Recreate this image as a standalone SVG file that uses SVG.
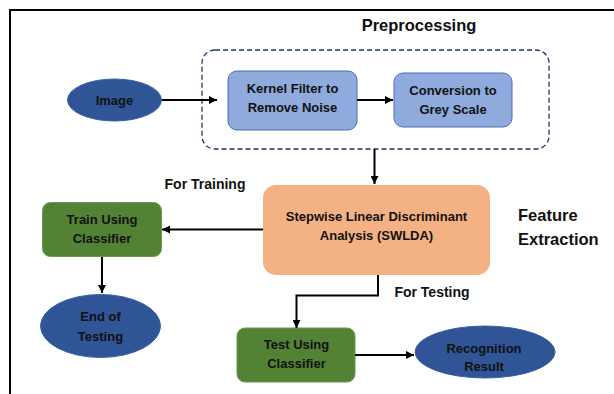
<svg xmlns="http://www.w3.org/2000/svg" width="614" height="394" viewBox="0 0 614 394">
<defs>
<marker id="ah" viewBox="0 0 10 10" refX="10" refY="5" markerWidth="4" markerHeight="4" orient="auto" markerUnits="strokeWidth">
<path d="M0,0 L10,5 L0,10 z" fill="#000"/>
</marker>
<style>
.t{font-family:"Liberation Sans",Arial,sans-serif;font-weight:bold;font-size:13px;fill:#111;text-anchor:middle}
.lbl{font-family:"Liberation Sans",Arial,sans-serif;font-weight:bold;font-size:14px;fill:#111}
.big{font-family:"Liberation Sans",Arial,sans-serif;font-weight:bold;font-size:16.5px;fill:#111}
.blue{fill:#2F5597;stroke:#3A62A7;stroke-width:1}
.lb{fill:#8FAADC;stroke:#4A6FB0;stroke-width:1}
.gr{fill:#548235;stroke:#6A9A4A;stroke-width:1}
.c{fill:none;stroke:#000;stroke-width:2;marker-end:url(#ah)}
</style>
</defs>
<rect width="614" height="394" fill="#fff"/>
<path d="M10,394 V10 H614" fill="none" stroke="#000" stroke-width="2"/>
<text class="big" x="419" y="31" text-anchor="middle">Preprocessing</text>
<rect x="202" y="50" width="347" height="99" rx="13" fill="none" stroke="#203864" stroke-width="1.3" stroke-dasharray="5,3"/>
<text class="lbl" x="205" y="189" text-anchor="middle">For Training</text>
<text class="lbl" x="432" y="297" text-anchor="middle">For Testing</text>
<text class="big" x="518" y="221">Feature</text>
<text class="big" x="518" y="245">Extraction</text>

<g id="image"><ellipse class="blue" cx="114.5" cy="100" rx="47" ry="21"/><text class="t" x="114.5" y="104.5">Image</text></g>
<g id="kernel"><rect class="lb" x="228" y="71" width="129" height="59" rx="9"/><text class="t" x="292.5" y="92.5">Kernel Filter to</text><text class="t" x="292.5" y="111.5">Remove Noise</text></g>
<g id="grey"><rect class="lb" x="394" y="73" width="118" height="54" rx="9"/><text class="t" x="453" y="94.5">Conversion to</text><text class="t" x="453" y="113.5">Grey Scale</text></g>
<g id="swlda"><rect x="263" y="185" width="227" height="90" rx="13" fill="#F4B183"/><text class="t" x="376.5" y="220.5">Stepwise Linear Discriminant</text><text class="t" x="376.5" y="239.5">Analysis (SWLDA)</text></g>
<g id="train"><rect class="gr" x="42.5" y="202.5" width="119" height="54" rx="8"/><text class="t" x="102" y="223.5">Train Using</text><text class="t" x="102" y="242.5">Classifier</text></g>
<g id="end"><ellipse class="blue" cx="100.5" cy="326" rx="60" ry="31.5"/><text class="t" x="100.5" y="321">End of</text><text class="t" x="100.5" y="340.5">Testing</text></g>
<g id="test"><rect class="gr" x="237" y="328" width="118" height="54" rx="8"/><text class="t" x="296.5" y="348.5">Test Using</text><text class="t" x="296.5" y="367.5">Classifier</text></g>
<g id="result"><ellipse class="blue" cx="485" cy="352" rx="70" ry="26"/><text class="t" x="484" y="352.5">Recognition</text><text class="t" x="484" y="370.5">Result</text></g>

<g id="connectors">
<path class="c" d="M162,100 H217"/>
<path class="c" d="M357,100 H393"/>
<path class="c" d="M374.5,149 V184"/>
<path class="c" d="M263,229.5 H162"/>
<path class="c" d="M102,257 V293"/>
<path class="c" d="M378,275 V295.5 H296.5 V328"/>
<path class="c" d="M355,355 H414"/>
</g>
</svg>
